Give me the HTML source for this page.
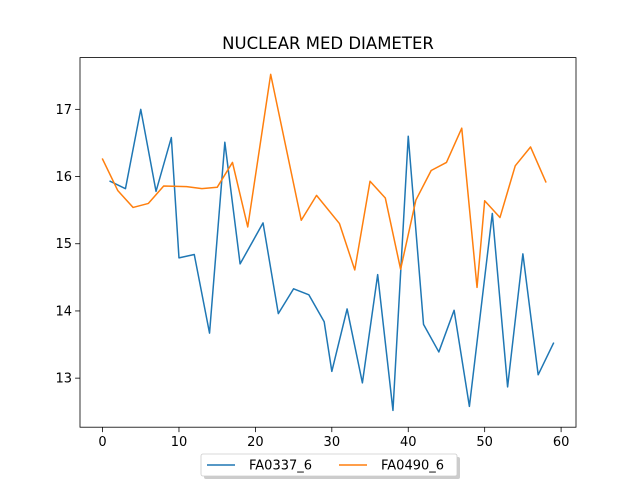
<!DOCTYPE html>
<html><head><meta charset="utf-8"><style>
html,body{margin:0;padding:0;background:#fff;}
svg{display:block;font-family:"DejaVu Sans","Liberation Sans",sans-serif;}
</style></head><body>
<svg id="chart" width="640" height="480"></svg>
<script>
const blueX=[1,3,5,7,9,10,12,14,16,18,21,23,25,27,29,30,32,34,36,38,40,42,44,46,48,51,53,55,57,59];
const blueY=[15.93,15.82,17.0,15.78,16.58,14.79,14.84,13.67,16.51,14.70,15.31,13.96,14.33,14.24,13.84,13.10,14.03,12.93,14.54,12.52,16.60,13.80,13.39,14.01,12.58,15.45,12.87,14.85,13.05,13.52];
const orangeX=[0,2,4,6,8,11,13,15,17,19,22,26,28,31,33,35,37,39,41,43,45,47,49,50,52,54,56,58];
const orangeY=[16.26,15.79,15.54,15.60,15.86,15.85,15.82,15.84,16.21,15.25,17.52,15.35,15.72,15.30,14.61,15.93,15.68,14.62,15.65,16.09,16.21,16.72,14.35,15.64,15.39,16.16,16.44,15.92];
const xTicks=[0,10,20,30,40,50,60];
const yTicks=[13,14,15,16,17];
const seriesNames=["FA0337_6","FA0490_6"];

const NS="http://www.w3.org/2000/svg";
const svg=document.getElementById('chart');
const L=80,R=576,T=57.6,B=427.2;
const allX=blueX.concat(orangeX), allY=blueY.concat(orangeY);
let xmin=Math.min(...allX),xmax=Math.max(...allX),ymin=Math.min(...allY),ymax=Math.max(...allY);
const xm=(xmax-xmin)*0.05, ym=(ymax-ymin)*0.05;
xmin-=xm;xmax+=xm;ymin-=ym;ymax+=ym;
function sx(v){return L+(v-xmin)/(xmax-xmin)*(R-L);}
function sy(v){return B-(v-ymin)/(ymax-ymin)*(B-T);}
function el(tag,attrs,txt){const e=document.createElementNS(NS,tag);for(const k in attrs)e.setAttribute(k,attrs[k]);if(txt!==undefined)e.textContent=txt;svg.appendChild(e);return e;}

let t=el('text',{x:328,y:49,'text-anchor':'middle','font-size':'16.5'},'NUCLEAR MED DIAMETER');



xTicks.forEach(v=>{const x=sx(v);
 let l=el('line',{x1:x,x2:x,y1:B,y2:B+4.9,stroke:'#000','stroke-width':0.8});
 
 
 let tx=el('text',{x:x,y:B+19,'text-anchor':'middle','font-size':'13'},String(v));
 
 
});
yTicks.forEach(v=>{const y=sy(v);
 let l=el('line',{x1:L-4.9,x2:L,y1:y,y2:y,stroke:'#000','stroke-width':0.8});
 
 
 let tx=el('text',{x:L-8,y:y+4.5,'text-anchor':'end','font-size':'13'},String(v));
 
 
});

function line(xs,ys,color,name){
 const p=xs.map((x,i)=>sx(x).toFixed(2)+','+sy(ys[i]).toFixed(2)).join(' ');
 const e=el('polyline',{points:p,fill:'none',stroke:color,'stroke-width':1.5,'stroke-linejoin':'round','stroke-linecap':'square'});
 
 
}
line(blueX,blueY,'#1f77b4','series-fa0337-6');
line(orangeX,orangeY,'#ff7f0e','series-fa0490-6');

let fr=el('rect',{x:L,y:T,width:R-L,height:B-T,fill:'none',stroke:'#000','stroke-width':0.8});



// legend
let sh=el('rect',{x:204,y:457,width:256,height:22,fill:'#999','fill-opacity':0.5,rx:2});


let lb=el('rect',{x:201,y:454,width:256,height:22,fill:'#fff',stroke:'#ccc','stroke-width':0.8,rx:2});


[[207,'#1f77b4',seriesNames[0]],[339,'#ff7f0e',seriesNames[1]]].forEach(([x,c,n],i)=>{
 let l=el('line',{x1:x,x2:x+28,y1:465,y2:465,stroke:c,'stroke-width':1.5});
 
 
 let tx=el('text',{x:x+42,y:469.5,'font-size':'13'},n);
 
 
});
</script>
</body></html>
